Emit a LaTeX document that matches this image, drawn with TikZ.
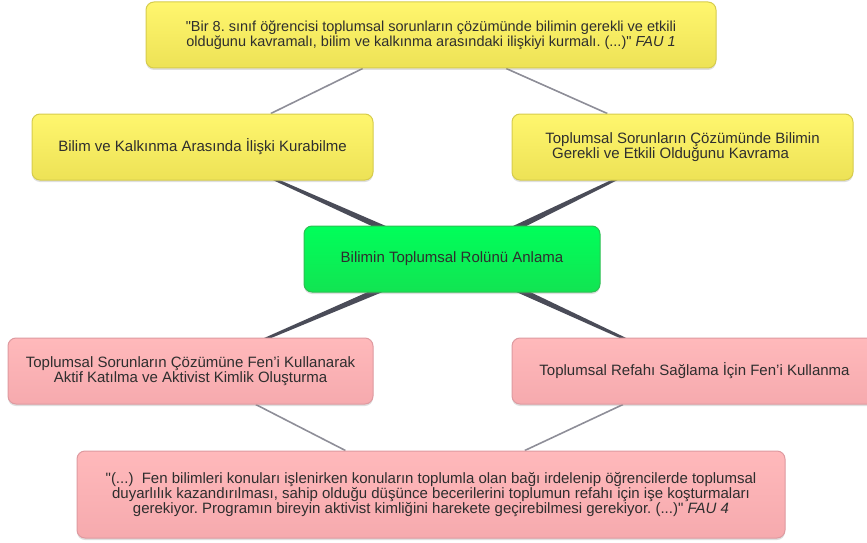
\documentclass[tikz,border=0pt]{standalone}
\usepackage{fontspec}
\setmainfont{Liberation Sans}
\usetikzlibrary{calc,shadows,backgrounds}
\frenchspacing
\definecolor{yelT}{HTML}{FFF66E}
\definecolor{yelB}{HTML}{EDE256}
\definecolor{yelD}{HTML}{D6CC4C}
\definecolor{grnT}{HTML}{00FF5A}
\definecolor{grnB}{HTML}{12E452}
\definecolor{grnD}{HTML}{2CC052}
\definecolor{pnkT}{HTML}{FFB9BB}
\definecolor{pnkB}{HTML}{F6AAAE}
\definecolor{pnkD}{HTML}{DE9AA0}
\definecolor{txt}{HTML}{2E2E2E}
\definecolor{thinln}{HTML}{8E8E98}
\definecolor{thickln}{HTML}{4A4C58}
\newcommand{\qt}{\textquotedbl}
\begin{document}
\begin{tikzpicture}[x=1pt,y=-1pt,
    box/.style={rounded corners=8pt, line width=1pt, align=center, text=txt,
        font=\fontsize{15}{13.5}\selectfont, inner sep=0pt,
        minimum height=66pt,
        drop shadow={shadow xshift=0pt, shadow yshift=-2pt, opacity=0.25}},
    quote/.style={font=\fontsize{14.5}{12.5}\selectfont},
    yelbox/.style={box, draw=yelD, top color=yelT, bottom color=yelB},
    grnbox/.style={box, draw=grnD, top color=grnT, bottom color=grnB},
    pnkbox/.style={box, draw=pnkD, top color=pnkT, bottom color=pnkB},
    thinlink/.style={draw=thinln, line width=1.6pt},
    wedge/.style={fill=thickln}]
    \useasboundingbox (0,0) rectangle (867,543);
    % quotes
    \node [yelbox, quote, minimum width=570pt] (fau1) at (431,35)
        {\qt Bir 8. sınıf öğrencisi toplumsal sorunların çözümünde bilimin gerekli ve etkili\\
         olduğunu kavramalı, bilim ve kalkınma arasındaki ilişkiyi kurmalı. (...)\qt{} \textit{FAU 1}};
    \node [pnkbox, font=\fontsize{15}{12.5}\selectfont, minimum width=708pt, minimum height=87pt] (fau4) at (431,494.5)
        {\qt(...)\ \ Fen bilimleri konuları işlenirken konuların toplumla olan bağı irdelenip öğrencilerde toplumsal\\
         duyarlılık kazandırılması, sahip olduğu düşünce becerilerini toplumun refahı için işe koşturmaları\\
         gerekiyor. Programın bireyin aktivist kimliğini harekete geçirebilmesi gerekiyor. (...)\qt{} \textit{FAU 4}};
    % sub themes
    \node [yelbox, minimum width=341pt] (kalk) at (202.5,147) {Bilim ve Kalkınma Arasında İlişki Kurabilme};
    \node [yelbox, minimum width=341pt] (kavr) at (682.5,147)
        {Toplumsal Sorunların Çözümünde Bilimin\\Gerekli ve Etkili Olduğunu Kavrama\hspace*{24pt}};
    \node [grnbox, minimum width=296pt] (rol) at (452,259) {Bilimin Toplumsal Rolünü Anlama};
    \node [pnkbox, minimum width=365pt] (akt) at (190.5,371)
        {Toplumsal Sorunların Çözümüne Fen’i Kullanarak\\Aktif Katılma ve Aktivist Kimlik Oluşturma};
    \node [pnkbox, minimum width=365pt] (ref) at (694.5,371) {Toplumsal Refahı Sağlama İçin Fen’i Kullanma};
    \begin{scope}[on background layer]
        \draw [thinlink] (fau1) -- (kalk);
        \draw [thinlink] (fau1) -- (kavr);
        \draw [thinlink] (akt) -- (fau4);
        \draw [thinlink] (ref) -- (fau4);
        \foreach \s in {kalk,kavr,akt,ref}
            \fill [wedge] ($(\s)!0.3pt!90:(rol)$) -- ($(rol)!4pt!-90:(\s)$)
                -- ($(rol)!4pt!90:(\s)$) -- ($(\s)!0.3pt!-90:(rol)$) -- cycle;
    \end{scope}
\end{tikzpicture}
\end{document}
